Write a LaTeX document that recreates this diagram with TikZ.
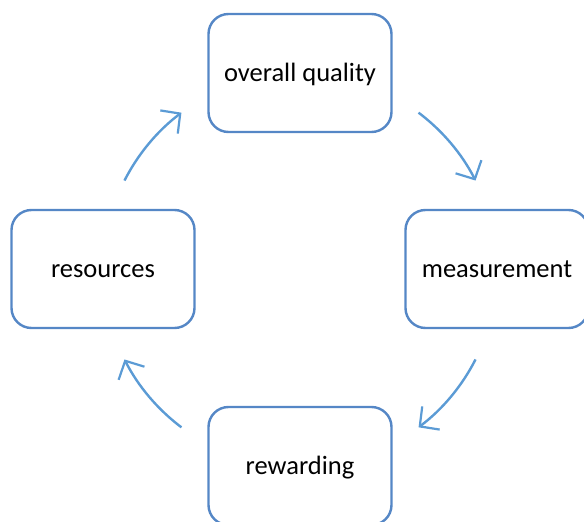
\documentclass[tikz,border=0pt]{standalone}
\usepackage{fontspec}
\setmainfont{Carlito}
\usepackage{tikz}
\usetikzlibrary{arrows.meta}
\definecolor{cycleblue}{HTML}{5B9BD5}
\definecolor{boxblue}{HTML}{5587C6}

\begin{document}
\begin{tikzpicture}[
    x=1pt, y=-1pt,
    stagebox/.style={rectangle, rounded corners=20pt, draw=boxblue, line width=2.4pt, fill=white, minimum width=183pt, minimum height=118pt, text height=21pt, text depth=4pt, align=center, font=\fontsize{26.5}{30}\selectfont},
    cyclearrow/.style={-{Straight Barb[length=14pt, width=29pt, line width=2.2pt]}, line width=2.4pt, cycleblue}
]
\clip (0,0) rectangle (584,522);
\useasboundingbox (0,0) rectangle (584,522);
\coordinate (hub) at (300,270);
\node[stagebox] (quality) at (300,73) {overall quality};
\node[stagebox] (measure) at (497,269) {measurement};
\node[stagebox] (reward) at (300,466) {rewarding};
\node[stagebox] (res) at (103,269) {resources};
% arcs of one circle round the hub
\foreach \a in {-53, 27, 127, 207}
  \draw[cyclearrow] (hub) ++(\a:197) arc[start angle=\a, delta angle=26, radius=197];
\end{tikzpicture}
\end{document}
